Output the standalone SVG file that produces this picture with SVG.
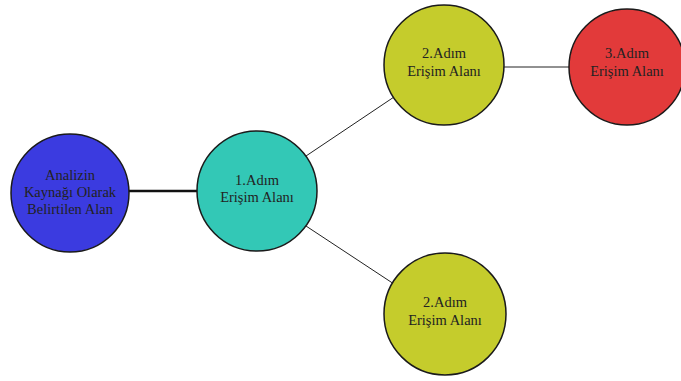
<svg xmlns="http://www.w3.org/2000/svg" width="681" height="381" viewBox="0 0 681 381">
  <style>
    .node { stroke: #1a1a1a; stroke-width: 1.5; }
    .label { font-family: "Liberation Serif", "Times New Roman", serif; font-size: 14.5px; fill: #222; text-anchor: middle; }
    .edge { stroke: #222; stroke-width: 1; fill: none; }
    .edge-bold { stroke: #111; stroke-width: 2.5; fill: none; }
  </style>
  <rect width="681" height="381" fill="#ffffff"/>
  <g id="connectors">
    <line class="edge-bold" x1="129" y1="191" x2="198" y2="191"/>
    <line class="edge" x1="306" y1="156" x2="394" y2="97"/>
    <line class="edge" x1="306" y1="226" x2="394" y2="284"/>
    <line class="edge" x1="504" y1="67" x2="570" y2="67"/>
  </g>
  <g id="source">
    <circle class="node" cx="70" cy="193" r="59" fill="#3b3be0"/>
    <text class="label" x="70" y="180" fill="#1a1a3a">Analizin</text>
    <text class="label" x="70" y="197">Kaynağı Olarak</text>
    <text class="label" x="70" y="214">Belirtilen Alan</text>
  </g>
  <g id="step1">
    <circle class="node" cx="257" cy="191" r="60" fill="#33c8b6"/>
    <text class="label" x="257" y="185">1.Adım</text>
    <text class="label" x="257" y="202">Erişim Alanı</text>
  </g>
  <g id="step2-top">
    <circle class="node" cx="444" cy="65" r="60" fill="#c5cc2c"/>
    <text class="label" x="444" y="58">2.Adım</text>
    <text class="label" x="444" y="76">Erişim Alanı</text>
  </g>
  <g id="step2-bottom">
    <circle class="node" cx="445" cy="314" r="61" fill="#c5cc2c"/>
    <text class="label" x="445" y="307">2.Adım</text>
    <text class="label" x="445" y="325">Erişim Alanı</text>
  </g>
  <g id="step3">
    <circle class="node" cx="627" cy="67" r="58" fill="#e23a3a"/>
    <text class="label" x="627" y="58">3.Adım</text>
    <text class="label" x="627" y="76">Erişim Alanı</text>
  </g>
</svg>
